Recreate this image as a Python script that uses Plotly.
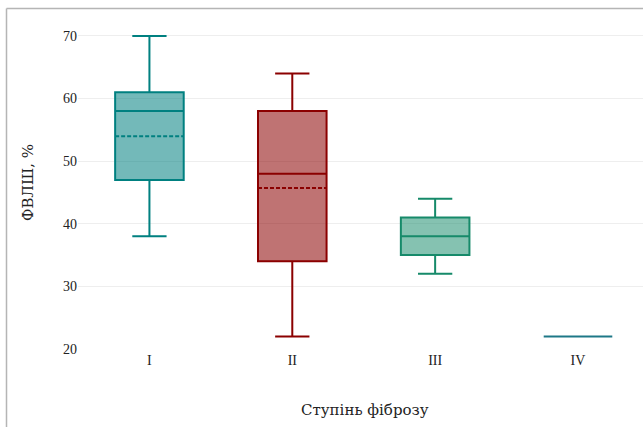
import plotly.graph_objects as go

categories = ["I", "II", "III", "IV"]
lower = [38, 22, 32, 22]
q1 = [47, 34, 35, 22]
median = [58, 48, 38, 22]
q3 = [61, 58, 41, 22]
upper = [70, 64, 44, 22]
means = [54, 45.7, None, None]

line_colors = ["rgb(0,128,128)", "rgb(139,0,0)", "rgb(22,138,106)", "rgb(30,120,135)"]
fill_colors = ["rgba(0,128,128,0.55)", "rgba(139,0,0,0.55)", "rgba(22,138,106,0.52)", "rgba(30,120,135,0.55)"]

fig = go.Figure()
for i, c in enumerate(categories):
    kw = {}
    if means[i] is not None:
        kw = dict(mean=[means[i]], boxmean=True)
    fig.add_trace(go.Box(
        x=[c], q1=[q1[i]], median=[median[i]], q3=[q3[i]],
        lowerfence=[lower[i]], upperfence=[upper[i]],
        width=0.48, whiskerwidth=0.5,
        line=dict(color=line_colors[i], width=2),
        fillcolor=fill_colors[i],
        showlegend=False, **kw))

font_family = "Liberation Serif"
title_family = "DejaVu Serif"

# plot area pixels: x 78..643, y 15..350
L, T, B, W, H = 78, 15, 77, 643, 427
pw = W - L
ph = H - T - B

def px_x(p):
    return (p - L) / pw

def px_y(p):
    return (H - B - p) / ph

fig.update_layout(
    width=W, height=H,
    margin=dict(l=L, r=0, t=T, b=B),
    paper_bgcolor="white", plot_bgcolor="white",
    boxmode="overlay",
    font=dict(family=font_family, size=14, color="#222"),
    xaxis=dict(type="category", categoryorder="array", categoryarray=categories,
               range=[-0.5, 3.455], showgrid=False, showline=False, zeroline=False,
               ticks="", tickfont=dict(size=14)),
    yaxis=dict(range=[19.84, 73.35], tickvals=[20, 30, 40, 50, 60, 70],
               showgrid=True, gridcolor="#eeeeee", gridwidth=1,
               showline=False, zeroline=False, ticks="", tickfont=dict(size=14),
               title=dict(text="ФВЛШ, %", font=dict(size=15, family=title_family), standoff=25)),
    shapes=[
        dict(type="line", xref="paper", yref="paper",
             x0=px_x(6.5), x1=px_x(6.5), y0=px_y(8.5), y1=px_y(430),
             line=dict(color="#b5b5b5", width=1.5)),
        dict(type="line", xref="paper", yref="paper",
             x0=px_x(6.5), x1=px_x(650), y0=px_y(8.5), y1=px_y(8.5),
             line=dict(color="#b5b5b5", width=1.5)),
    ],
    annotations=[
        dict(text="Ступінь фіброзу", xref="paper", yref="paper",
             x=px_x(365), y=px_y(410), xanchor="center", yanchor="middle",
             showarrow=False, font=dict(size=15, family=title_family, color="#222")),
    ],
)

fig.write_html("out.html", config={"displayModeBar": False},
               post_script="document.body.style.margin='0';document.body.style.padding='0';")
